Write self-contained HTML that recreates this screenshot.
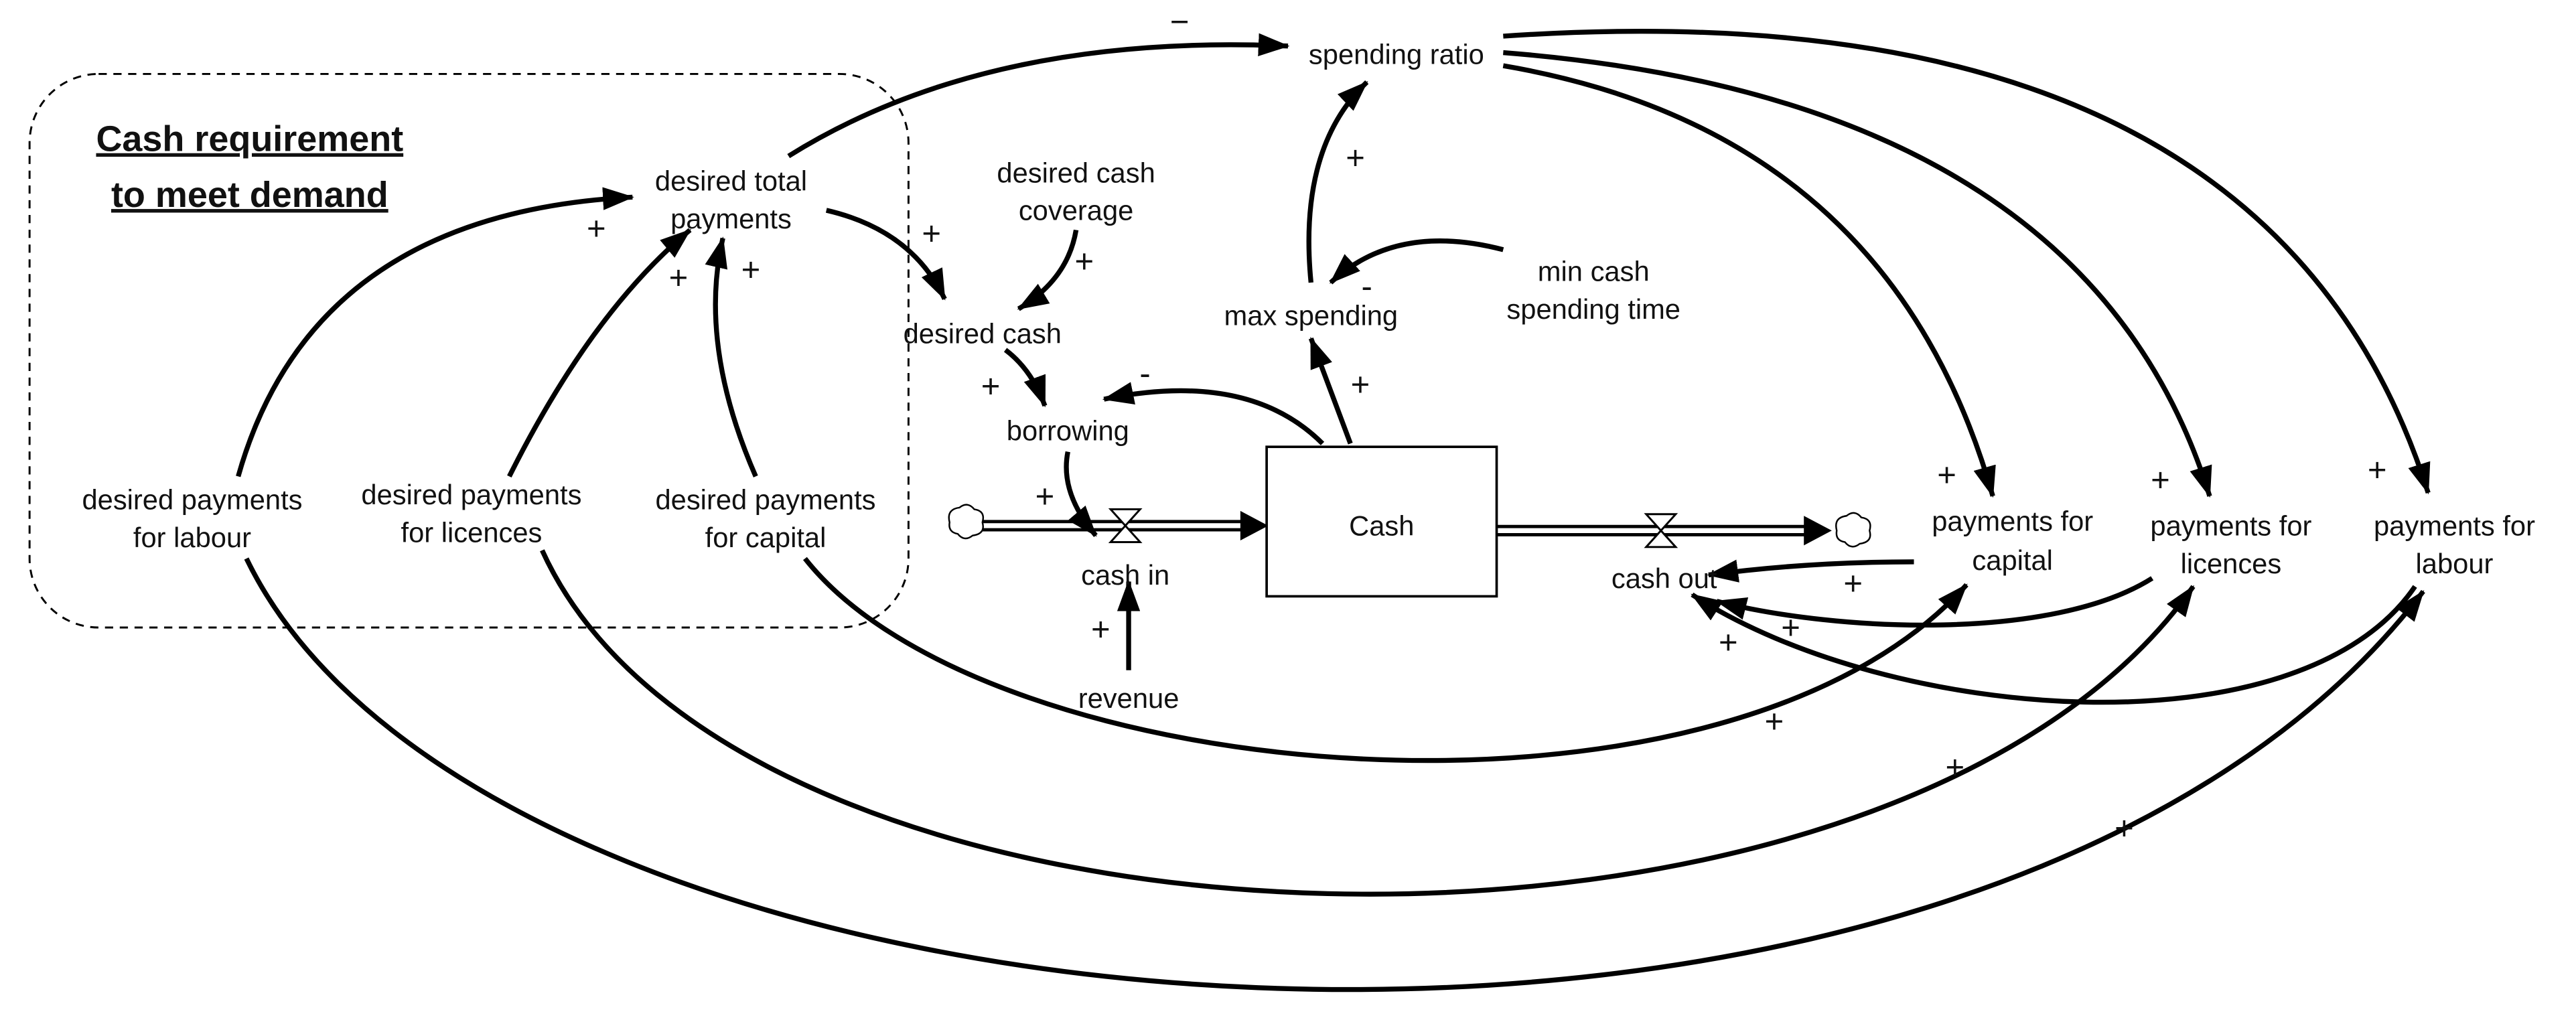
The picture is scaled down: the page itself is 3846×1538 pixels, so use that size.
<!DOCTYPE html>
<html><head><meta charset="utf-8"><style>
html,body{margin:0;padding:0;background:#fff;}
svg{display:block;}
text{font-family:"Liberation Sans",Arial,sans-serif;font-size:17px;fill:#111;}
.p{font-size:20px;}
</style></head><body>
<svg width="3846" height="1538" viewBox="0 0 1568 627" xmlns="http://www.w3.org/2000/svg">
<defs>
<marker id="a" markerUnits="userSpaceOnUse" markerWidth="20" markerHeight="14" refX="18" refY="7" orient="auto">
<path d="M0,0 L19,7 L0,14 z" fill="#000"/></marker>
</defs>
<rect x="18" y="45" width="535" height="337" rx="42" fill="none" stroke="#000" stroke-width="1.2" stroke-dasharray="5,4"/>
<text x="152" y="92" text-anchor="middle" style="font-size:22px;font-weight:bold;text-decoration:underline">Cash requirement</text>
<text x="152" y="126" text-anchor="middle" style="font-size:22px;font-weight:bold;text-decoration:underline">to meet demand</text>

<!-- flows -->
<g stroke="#000" fill="none">
<line x1="597" y1="320" x2="758" y2="320" stroke-width="7"/>
<line x1="597" y1="320" x2="758" y2="320" stroke="#fff" stroke-width="3"/>
<line x1="911" y1="323" x2="1102" y2="323" stroke-width="7"/>
<line x1="911" y1="323" x2="1102" y2="323" stroke="#fff" stroke-width="3"/>
</g>
<path d="M755,311 L772,320 L755,329 z" fill="#000"/>
<path d="M1098,314 L1115,323 L1098,332 z" fill="#000"/>
<path d="M676,310 L694,310 L676,330 L694,330 z" fill="#fff" stroke="#000" stroke-width="1.2"/>
<path d="M1002,313 L1020,313 L1002,333 L1020,333 z" fill="#fff" stroke="#000" stroke-width="1.2"/>
<path d="M578,318 q-2,-8 6,-9 q5,-4 9,1 q7,1 5,8 q2,7 -6,8 q-5,4 -9,-1 q-6,-1 -5,-7z" fill="#fff" stroke="#000" stroke-width="1"/>
<path d="M1118,323 q-2,-8 6,-9 q5,-4 9,1 q7,1 5,8 q2,7 -6,8 q-5,4 -9,-1 q-6,-1 -5,-7z" fill="#fff" stroke="#000" stroke-width="1"/>
<rect x="771" y="272" width="140" height="91" fill="#fff" stroke="#000" stroke-width="1.5"/>
<text x="841" y="326" text-anchor="middle">Cash</text>

<!-- links -->
<g stroke="#000" stroke-width="3" fill="none" marker-end="url(#a)">
<path d="M145,290 Q190,130 385,120"/>
<path d="M310,290 Q360,190 420,140"/>
<path d="M460,290 Q425,210 440,145"/>
<path d="M503,128 Q555,140 575,182"/>
<path d="M655,140 Q650,170 620,188"/>
<path d="M612,213 Q628,225 636,247"/>
<path d="M805,270 Q760,225 672,243"/>
<path d="M650,275 Q645,300 667,326"/>
<path d="M687,408 L687,354"/>
<path d="M822,270 L798,206"/>
<path d="M798,172 Q790,90 832,50"/>
<path d="M915,152 Q850,135 810,172"/>
<path d="M480,95 Q600,20 784,28"/>
<path d="M915,40 Q1150,80 1213,302"/>
<path d="M915,32 Q1270,60 1345,302"/>
<path d="M915,22 Q1380,-10 1478,300"/>
<path d="M1165,342 Q1100,342 1040,350"/>
<path d="M1310,352 C1250,390 1120,385 1045,366"/>
<path d="M1470,357 C1400,460 1150,440 1030,362"/>
<path d="M490,340 C600,480 1050,520 1197,356"/>
<path d="M330,335 C450,600 1150,620 1335,357"/>
<path d="M150,340 C300,650 1200,720 1475,360"/>
</g>

<!-- labels -->
<g text-anchor="middle">
<text x="445" y="116">desired total</text><text x="445" y="139">payments</text>
<text x="655" y="111">desired cash</text><text x="655" y="134">coverage</text>
<text x="598" y="209">desired cash</text>
<text x="650" y="268">borrowing</text>
<text x="798" y="198">max spending</text>
<text x="970" y="171">min cash</text><text x="970" y="194">spending time</text>
<text x="850" y="39">spending ratio</text>
<text x="685" y="356">cash in</text>
<text x="1013" y="358">cash out</text>
<text x="687" y="431">revenue</text>
<text x="1225" y="323">payments for</text><text x="1225" y="347">capital</text>
<text x="1358" y="326">payments for</text><text x="1358" y="349">licences</text>
<text x="1494" y="326">payments for</text><text x="1494" y="349">labour</text>
<text x="117" y="310">desired payments</text><text x="117" y="333">for labour</text>
<text x="287" y="307">desired payments</text><text x="287" y="330">for licences</text>
<text x="466" y="310">desired payments</text><text x="466" y="333">for capital</text>
</g>
<g text-anchor="middle" class="p">
<text class="p" x="363" y="146">+</text>
<text class="p" x="413" y="176">+</text>
<text class="p" x="457" y="171">+</text>
<text class="p" x="567" y="149">+</text>
<text class="p" x="660" y="166">+</text>
<text class="p" x="603" y="242">+</text>
<text class="p" x="697" y="234">-</text>
<text class="p" x="636" y="309">+</text>
<text class="p" x="670" y="390">+</text>
<text class="p" x="828" y="241">+</text>
<text class="p" x="825" y="103">+</text>
<text class="p" x="832" y="181">-</text>
<text class="p" x="718" y="20">−</text>
<text class="p" x="1185" y="296">+</text>
<text class="p" x="1315" y="299">+</text>
<text class="p" x="1447" y="293">+</text>
<text class="p" x="1128" y="362">+</text>
<text class="p" x="1090" y="389">+</text>
<text class="p" x="1052" y="398">+</text>
<text class="p" x="1080" y="446">+</text>
<text class="p" x="1190" y="474">+</text>
<text class="p" x="1293" y="511">+</text>
</g>
</svg>
</body></html>
